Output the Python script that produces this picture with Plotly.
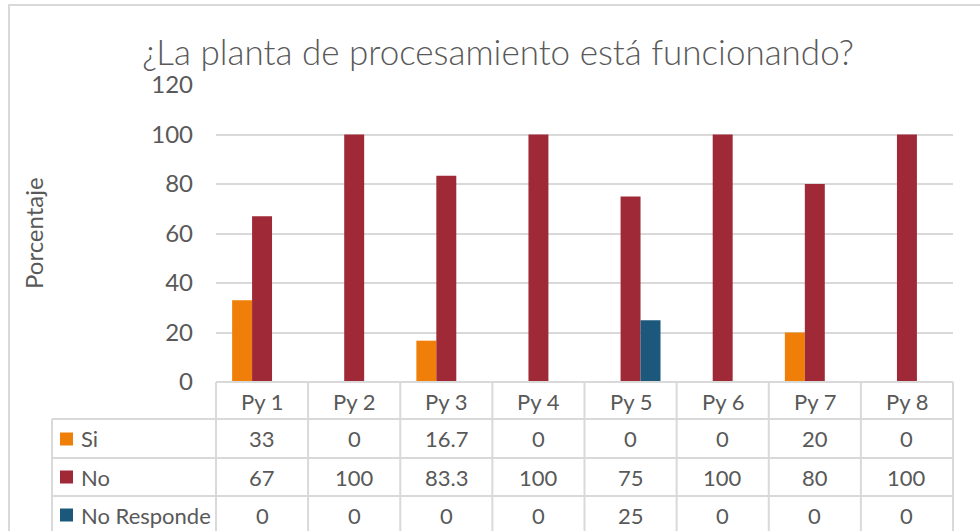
import plotly.graph_objects as go

# ---- data ----
categories = ["Py 1", "Py 2", "Py 3", "Py 4", "Py 5", "Py 6", "Py 7", "Py 8"]
series_names = ["Si", "No", "No Responde"]
si_values = [33, 0, 16.7, 0, 0, 0, 20, 0]
no_values = [67, 100, 83.3, 100, 75, 100, 80, 100]
nr_values = [0, 0, 0, 0, 25, 0, 0, 0]
y_ticks = [0, 20, 40, 60, 80, 100, 120]
title_text = "¿La planta de procesamiento está funcionando?"
y_title = "Porcentaje"

series_values = [si_values, no_values, nr_values]
colors = ["#F07F09", "#9F2936", "#1B587C"]

W, H = 980, 531
L, R, T, B = 216, 27, 85, 149
PW, PH = W - L - R, H - T - B
FONT = "Lato, 'Open Sans', sans-serif"
TXT = "#595959"
GRID = "#D9D9D9"
TS = 22


def px_x(px):
    return (px - L) / PW


def px_y(py):
    return (H - B - py) / PH


fig = go.Figure()
for name, vals, col in zip(series_names, series_values, colors):
    fig.add_trace(go.Bar(x=categories, y=vals, name=name, marker_color=col,
                         marker_line_width=0, showlegend=False))

shapes = []
annotations = []

# outer chart border
shapes.append(dict(type="rect", xref="paper", yref="paper",
                   x0=px_x(9), x1=px_x(990), y0=px_y(545), y1=px_y(5),
                   line=dict(color=GRID, width=2), layer="below"))

# data table
n = len(categories)
row_bounds = [382, 419, 458, 496, 540]
left_px = 52
for i, yb in enumerate(row_bounds):
    x0 = 0 if i == 0 else px_x(left_px)
    shapes.append(dict(type="line", xref="paper", yref="paper",
                       x0=x0, x1=1, y0=px_y(yb), y1=px_y(yb),
                       line=dict(color=GRID, width=2)))
for i in range(n + 1):
    shapes.append(dict(type="line", xref="paper", yref="paper",
                       x0=i / n, x1=i / n, y0=px_y(row_bounds[0]), y1=px_y(row_bounds[-1]),
                       line=dict(color=GRID, width=2)))
shapes.append(dict(type="line", xref="paper", yref="paper",
                   x0=px_x(left_px), x1=px_x(left_px), y0=px_y(row_bounds[1]), y1=px_y(row_bounds[-1]),
                   line=dict(color=GRID, width=2)))

row_centers = [401, 439, 477, 515]
for c in categories:
    annotations.append(dict(x=c, xref="x", y=px_y(row_centers[0]), yref="paper",
                            xanchor="center", yanchor="middle",
                            text=c, showarrow=False, font=dict(size=TS, color=TXT, family=FONT)))
for r, (name, vals, col) in enumerate(zip(series_names, series_values, colors)):
    yc = row_centers[r + 1]
    for c, v in zip(categories, vals):
        annotations.append(dict(x=c, xref="x", y=px_y(yc), yref="paper",
                                xanchor="center", yanchor="middle",
                                text=f"{v:g}", showarrow=False,
                                font=dict(size=TS, color=TXT, family=FONT)))
    shapes.append(dict(type="rect", xref="paper", yref="paper",
                       x0=px_x(60), x1=px_x(73), y0=px_y(yc + 6.5), y1=px_y(yc - 6.5),
                       fillcolor=col, line=dict(width=0)))
    annotations.append(dict(x=px_x(79), xref="paper", y=px_y(yc), yref="paper",
                            text=name, showarrow=False, xanchor="left", yanchor="middle",
                            font=dict(size=TS, color=TXT, family=FONT)))

# y axis title
annotations.append(dict(x=px_x(33), xref="paper", y=px_y(233), yref="paper",
                        xanchor="center", yanchor="middle",
                        text=y_title, textangle=-90, showarrow=False,
                        font=dict(size=24, color=TXT, family=FONT)))

fig.update_layout(
    width=W, height=H, autosize=False,
    margin=dict(l=L, r=R, t=T, b=B),
    paper_bgcolor="white", plot_bgcolor="white",
    title=dict(text=title_text, x=498 / W, xanchor="center", xref="container",
               y=1 - 53 / H, yanchor="middle", yref="container",
               font=dict(size=35, color=TXT, family=FONT, weight=300)),
    barmode="group", bargap=0.35, bargroupgap=0,
    xaxis=dict(showticklabels=False, showgrid=False, zeroline=False, showline=False,
               ticks=""),
    yaxis=dict(range=[0, 120], tickvals=y_ticks, showgrid=True, gridcolor=GRID,
               gridwidth=1.5, zeroline=True, zerolinecolor=GRID, zerolinewidth=2,
               showline=False, ticks="", ticklabelstandoff=22,
               tickfont=dict(size=24, color=TXT, family=FONT)),
    shapes=shapes, annotations=annotations,
)

fig.write_html("out.html", config={"displayModeBar": False},
               post_script="document.body.style.margin='0';")
